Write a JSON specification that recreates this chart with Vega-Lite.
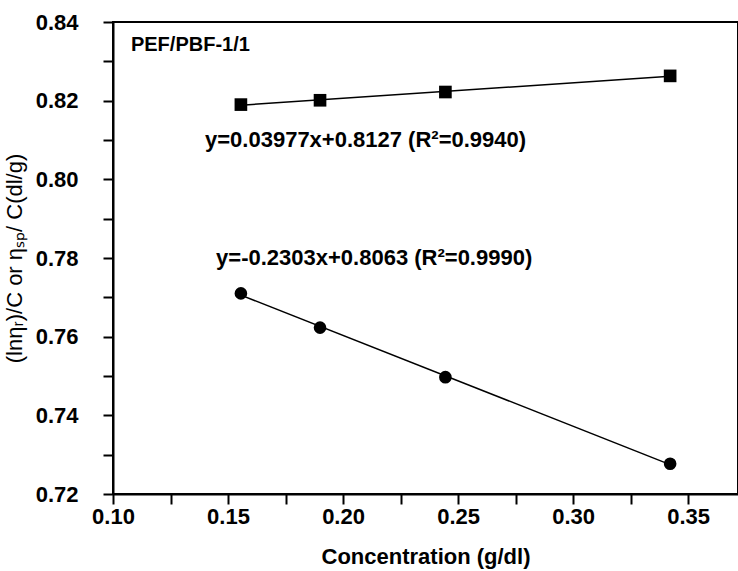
{
  "$schema": "https://vega.github.io/schema/vega-lite/v6.json",
  "autosize": "none",
  "width": 625,
  "height": 472,
  "padding": {"left": 113, "top": 22, "right": 0, "bottom": 77},
  "background": "white",
  "config": {
    "view": {"stroke": "black", "strokeWidth": 2},
    "font": "Liberation Sans"
  },
  "datasets": {
    "pts": [
      {"c": 0.1556, "v": 0.8190, "series": "eta_sp/C"},
      {"c": 0.1900, "v": 0.8201, "series": "eta_sp/C"},
      {"c": 0.2445, "v": 0.8222, "series": "eta_sp/C"},
      {"c": 0.3422, "v": 0.8263, "series": "eta_sp/C"},
      {"c": 0.1556, "v": 0.7710, "series": "ln eta_r/C"},
      {"c": 0.1900, "v": 0.7623, "series": "ln eta_r/C"},
      {"c": 0.2445, "v": 0.7497, "series": "ln eta_r/C"},
      {"c": 0.3422, "v": 0.7277, "series": "ln eta_r/C"}
    ],
    "notes": [
      {"c": 0.1078, "v": 0.8342, "label": "PEF/PBF-1/1", "size": 20},
      {"c": 0.1400, "v": 0.8100, "label": "y=0.03977x+0.8127 (R²=0.9940)", "size": 22},
      {"c": 0.1448, "v": 0.7800, "label": "y=-0.2303x+0.8063 (R²=0.9990)", "size": 22}
    ]
  },
  "encoding": {
    "x": {
      "field": "c", "type": "quantitative",
      "scale": {"domain": [0.10, 0.3717], "nice": false, "zero": false},
      "axis": {
        "title": "Concentration (g/dl)",
        "values": [0.10, 0.125, 0.15, 0.175, 0.20, 0.225, 0.25, 0.275, 0.30, 0.325, 0.35],
        "labelExpr": "abs(datum.value*20 - round(datum.value*20)) < 0.001 ? format(datum.value, '.2f') : ''",
        "labelOverlap": false,
        "labelFlush": false,
        "labelBound": false,
        "domainColor": "black", "domainWidth": 2,
        "tickColor": "black", "tickWidth": 2,
        "tickSize": 10,
        "encoding": {
          "ticks": {"update": {"y2": {"signal": "abs(datum.value*20 - round(datum.value*20)) < 0.001 ? 10 : 5"}}}
        },
        "labelFont": "Liberation Sans", "labelFontSize": 22, "labelFontWeight": "bold", "labelColor": "black",
        "labelPadding": 2,
        "titleFont": "Liberation Sans", "titleFontSize": 22, "titleFontWeight": "bold", "titleColor": "black",
        "titlePadding": 19,
        "grid": false
      }
    },
    "y": {
      "field": "v", "type": "quantitative",
      "scale": {"domain": [0.72, 0.84], "nice": false, "zero": false},
      "axis": {
        "title": "(lnηᵣ)/C or ηₛₚ/ C(dl/g)",
        "values": [0.72, 0.73, 0.74, 0.75, 0.76, 0.77, 0.78, 0.79, 0.80, 0.81, 0.82, 0.83, 0.84],
        "labelExpr": "abs(datum.value*50 - round(datum.value*50)) < 0.001 ? format(datum.value, '.2f') : ''",
        "labelOverlap": false,
        "labelFlush": false,
        "labelBound": false,
        "domainColor": "black", "domainWidth": 2,
        "tickColor": "black", "tickWidth": 2,
        "tickSize": 10,
        "encoding": {
          "ticks": {"update": {"x2": {"signal": "abs(datum.value*50 - round(datum.value*50)) < 0.001 ? -10 : -6"}}}
        },
        "labelFont": "Liberation Sans", "labelFontSize": 22, "labelFontWeight": "bold", "labelColor": "black",
        "labelPadding": 25,
        "titleFont": "Liberation Sans", "titleFontSize": 22, "titleFontWeight": "normal", "titleColor": "black",
        "titlePadding": 9,
        "grid": false
      }
    }
  },
  "layer": [
    {
      "data": {"name": "pts"},
      "transform": [{"regression": "v", "on": "c", "groupby": ["series"]}],
      "mark": {"type": "line", "color": "black", "strokeWidth": 1.5},
      "encoding": {"detail": {"field": "series"}}
    },
    {
      "data": {"name": "pts"},
      "mark": {"type": "point", "filled": true, "color": "black", "opacity": 1},
      "encoding": {
        "shape": {"field": "series", "type": "nominal", "scale": {"domain": ["eta_sp/C", "ln eta_r/C"], "range": ["square", "circle"]}, "legend": null},
        "size": {"value": 160}
      }
    },
    {
      "data": {"name": "notes"},
      "mark": {"type": "text", "align": "left", "baseline": "middle", "font": "Liberation Sans", "fontWeight": "bold", "color": "black"},
      "encoding": {"text": {"field": "label"}, "size": {"field": "size", "type": "quantitative", "scale": null}}
    }
  ]
}
